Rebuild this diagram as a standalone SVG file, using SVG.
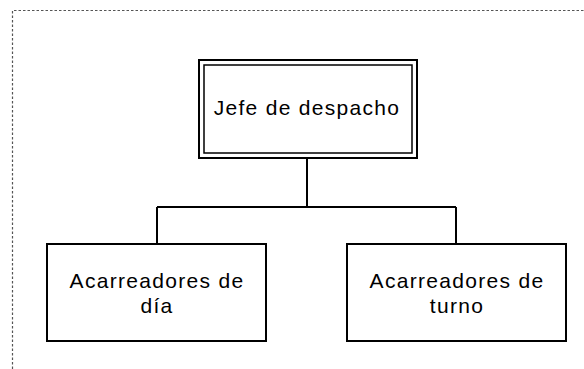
<svg xmlns="http://www.w3.org/2000/svg" width="584" height="369" viewBox="0 0 584 369">
<style>
.box{fill:#fff;stroke:#000;stroke-width:2}
.thin{fill:none;stroke:#000;stroke-width:1.5}
.lbl{font-family:"Liberation Sans",Arial,sans-serif;font-size:21px;letter-spacing:1.3px;fill:#000;text-anchor:middle}
.con{fill:none;stroke:#000;stroke-width:2}
.frame{fill:none;stroke:#555;stroke-width:1.2;stroke-dasharray:2.5 2}
</style>
<rect width="584" height="369" fill="#fff"/>
<path class="frame" d="M12.5,369 V10.5 H584"/>
<g id="connectors">
<path class="con" d="M307,158 V207 M157,207 H456 M157,207 V244 M456,207 V244"/>
</g>
<g id="jefe">
<rect class="box" x="199" y="60" width="218" height="98"/>
<rect class="thin" x="204" y="65" width="208" height="88"/>
<text class="lbl" x="307" y="115">Jefe de despacho</text>
</g>
<g id="dia">
<rect class="box" x="47" y="244" width="219" height="97"/>
<text class="lbl" x="157" y="288">Acarreadores de</text>
<text class="lbl" x="157" y="313">día</text>
</g>
<g id="turno">
<rect class="box" x="347" y="244" width="219" height="97"/>
<text class="lbl" x="457" y="288">Acarreadores de</text>
<text class="lbl" x="457" y="313">turno</text>
</g>
</svg>
